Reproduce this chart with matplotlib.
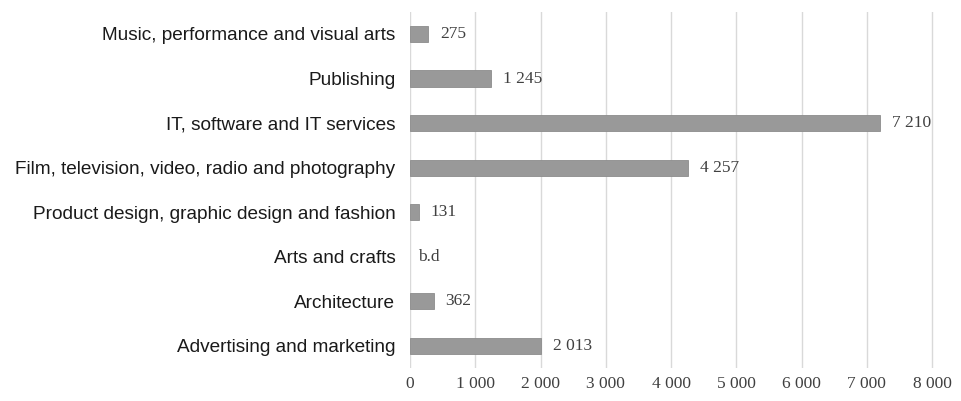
import numpy as np
import matplotlib.pyplot as plt

# Employment in creative sectors
sectors = [
    'Advertising and marketing',
    'Architecture',
    'Arts and crafts',
    'Product design, graphic design and fashion',
    'Film, television, video, radio and photography',
    'IT, software and IT services',
    'Publishing',
    'Music, performance and visual arts',
]
employees = [2013, 362, None, 131, 4257, 7210, 1245, 275]
value_labels = ['2 013', '362', 'b.d', '131', '4 257', '7 210', '1 245', '275']
xticks = [0, 1000, 2000, 3000, 4000, 5000, 6000, 7000, 8000]
xtick_labels = ['0', '1 000', '2 000', '3 000', '4 000', '5 000', '6 000', '7 000', '8 000']

fig = plt.figure(figsize=(9.62, 4.01), dpi=100)
ax = fig.add_axes([0.4262, 0.0823, 0.5494, 0.8885])

y = np.arange(len(sectors))
# no bar for sectors without data (b.d)
has_data = [v is not None for v in employees]
ax.barh(y[has_data], [v for v in employees if v is not None], height=0.36,
        color='#999999', edgecolor='#8c8c8c', linewidth=0.6, zorder=3)

for yi, v, lab in zip(y, employees, value_labels):
    xpos = v if v is not None else 0
    off = 12 if v is not None else 8
    ax.annotate(lab, (xpos, yi), xytext=(off, 0), textcoords='offset pixels',
                va='center', ha='left', fontsize=12.5, family='Liberation Serif',
                color='#404040')

ax.set_xlim(0, 8100)
ax.set_ylim(-0.5, len(sectors) - 0.5)
ax.set_xticks(xticks)
ax.set_xticklabels(xtick_labels, family='Liberation Serif', fontsize=12.5, color='#404040')
ax.set_yticks(y)
ax.set_yticklabels(sectors, family='Liberation Sans', fontsize=13.7, color='#1a1a1a')
ax.tick_params(axis='both', length=0)
ax.tick_params(axis='y', pad=10.5)
ax.tick_params(axis='x', pad=6)

ax.grid(axis='x', color='#d9d9d9', linewidth=1, zorder=0)
ax.set_axisbelow(True)
for s in ax.spines.values():
    s.set_visible(False)

fig.savefig('out.png', dpi=100)
